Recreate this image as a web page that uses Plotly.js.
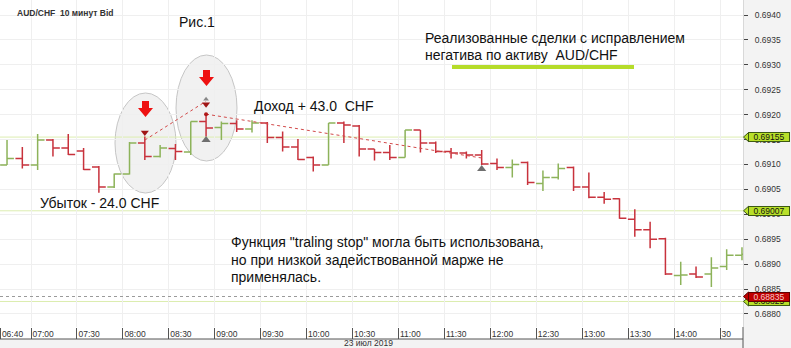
<!DOCTYPE html>
<html><head><meta charset="utf-8">
<script src="https://cdn.plot.ly/plotly-3.0.1.min.js"></script>
<style>html,body{margin:0;padding:0;background:#f3f3f3;}#chart{width:791px;height:348px;}</style>
</head><body><div id="chart"></div>
<script>
// ---- data ----
const barTimes = ['06:40','06:50','07:00','07:10','07:20','07:30','07:40','07:50','08:00','08:10',
  '08:20','08:30','08:40','08:50','09:00','09:10','09:20','09:30','09:40','09:50',
  '10:00','10:10','10:20','10:30','10:40','10:50','11:00','11:10','11:20','11:30',
  '11:40','11:50','12:00','12:10','12:20','12:30','12:40','12:50','13:00','13:10',
  '13:20','13:30','13:40','13:50','14:00','14:10','14:20','14:30','14:40'];
const openP  = [0.69099,0.69112,0.69099,0.69149,0.69133,0.69127,0.69095,0.69055,0.69081,0.69143,
  0.69116,0.69132,0.69125,0.69186,0.69174,0.69182,0.69171,0.69183,0.69154,0.69135,
  0.69114,0.69099,0.69183,0.69177,0.69131,0.69124,0.69114,0.69169,0.69143,0.69126,
  0.69123,0.69119,0.69102,0.69094,0.69104,0.69062,0.69074,0.69094,0.69055,0.69034,
  0.69031,0.68990,0.68969,0.68951,0.68877,0.68880,0.68880,0.68895,0.68918];
const highP  = [0.69149,0.69135,0.69161,0.69151,0.69161,0.69133,0.69097,0.69082,0.69145,0.69156,
  0.69139,0.69141,0.69186,0.69203,0.69186,0.69189,0.69189,0.69185,0.69166,0.69151,
  0.69116,0.69183,0.69186,0.69179,0.69131,0.69139,0.69169,0.69169,0.69146,0.69133,
  0.69126,0.69129,0.69112,0.69110,0.69106,0.69088,0.69102,0.69096,0.69084,0.69045,
  0.69032,0.69010,0.68985,0.68953,0.68905,0.68895,0.68914,0.68930,0.68934];
const lowP   = [0.69099,0.69092,0.69089,0.69116,0.69119,0.69089,0.69043,0.69053,0.69080,0.69109,
  0.69114,0.69109,0.69119,0.69156,0.69149,0.69165,0.69164,0.69143,0.69126,0.69109,
  0.69086,0.69099,0.69143,0.69116,0.69108,0.69109,0.69114,0.69124,0.69123,0.69112,
  0.69112,0.69099,0.69089,0.69074,0.69059,0.69047,0.69070,0.69047,0.69032,0.69021,
  0.68991,0.68955,0.68932,0.68878,0.68858,0.68872,0.68854,0.68888,0.68908];
const closeP = [0.69112,0.69099,0.69149,0.69133,0.69120,0.69090,0.69055,0.69081,0.69143,0.69116,
  0.69133,0.69126,0.69186,0.69173,0.69182,0.69171,0.69183,0.69154,0.69135,0.69110,
  0.69099,0.69183,0.69179,0.69131,0.69124,0.69114,0.69169,0.69143,0.69126,0.69123,
  0.69119,0.69101,0.69094,0.69100,0.69064,0.69074,0.69092,0.69055,0.69034,0.69030,
  0.68992,0.68969,0.68950,0.68880,0.68878,0.68874,0.68892,0.68918,0.68920];

const tickTimes  = ['06:40','07:00','07:30','08:00','08:30','09:00','09:30','10:00','10:30','11:00','11:30','12:00','12:30','13:00','13:30','14:00','14:30'];
const tickLabels = ['06:40','07:00','07:30','08:00','08:30','09:00','09:30','10:00','10:30','11:00','11:30','12:00','12:30','13:00','13:30','14:00','30'];
const yTicks = [0.6880,0.6885,0.6890,0.6895,0.6900,0.6905,0.6910,0.6915,0.6920,0.6925,0.6930,0.6935,0.6940];

// trades
const trade1Times = ['08:10','08:50'];  const trade1Prices = [0.69149, 0.69227];
const trade2Times = ['08:50','11:50'];  const trade2Prices = [0.69201, 0.69113];
const sellTimes = ['08:10','08:50'];    const sellPrices = [0.69164, 0.69221];
const exitTimes = ['08:50','11:50'];    const exitPrices = [0.69149, 0.69091];
const smallExitTimes = ['08:50'];       const smallExitPrices = [0.69231];
const dotTimes = ['08:50'];             const dotPrices = [0.69201];

// price levels
const greenLevels = [0.69155, 0.69007, 0.68825];
const greenLabels = ['0.69155','0.69007','0.68825'];
const redLevel = 0.68835; const redLabel = '0.68835';

// ---- helpers ----
function pad(n){return (n<10?'0':'')+n;}
function ts(hm, sec){
  const p = hm.split(':').map(Number);
  const s = p[0]*3600 + p[1]*60 + (sec||0);
  return '2019-07-23 ' + pad(Math.floor(s/3600)) + ':' + pad(Math.floor((s%3600)/60)) + ':' + pad(s%60);
}
const CENTER = 260; // bar drawn offset (s)
const W = 743, H = 327;
const YMIN = 0.687738, YMAX = 0.694301;
function px(x){return x/W;}
function py(y){return 1 - y/H;}
function pyPrice(v){return (v - YMIN)/(YMAX - YMIN);}
function pathPx(pts){return 'M ' + pts.map(p => px(p[0]) + ',' + py(p[1])).join(' L ') + ' Z';}

const FONT = 'Liberation Sans, Arial, sans-serif';

const traces = [
  {type:'ohlc', x: barTimes.map(t=>ts(t,CENTER)), open:openP, high:highP, low:lowP, close:closeP,
   increasing:{line:{color:'#8db35a', width:1.5}}, decreasing:{line:{color:'#c8323c', width:1.5}},
   tickwidth:0.45, hoverinfo:'skip'},
  {type:'scatter', mode:'lines', x: trade1Times.map(t=>ts(t,CENTER)), y: trade1Prices,
   line:{color:'#d24a4a', width:1, dash:'dot'}, hoverinfo:'skip'},
  {type:'scatter', mode:'lines', x: trade2Times.map(t=>ts(t,CENTER)), y: trade2Prices,
   line:{color:'#d24a4a', width:1, dash:'dot'}, hoverinfo:'skip'},
  {type:'scatter', mode:'markers', x: sellTimes.map(t=>ts(t,CENTER)), y: sellPrices,
   marker:{symbol:'triangle-down', size:7, color:'#a01515'}, hoverinfo:'skip'},
  {type:'scatter', mode:'markers', x: exitTimes.map(t=>ts(t,CENTER)), y: exitPrices,
   marker:{symbol:'triangle-up', size:8, color:'#6f6f6f'}, hoverinfo:'skip'},
  {type:'scatter', mode:'markers', x: smallExitTimes.map(t=>ts(t,CENTER)), y: smallExitPrices,
   marker:{symbol:'triangle-up', size:5, color:'#888'}, hoverinfo:'skip'},
  {type:'scatter', mode:'markers', x: dotTimes.map(t=>ts(t,CENTER)), y: dotPrices,
   marker:{symbol:'circle', size:4, color:'#b01818'}, hoverinfo:'skip'}
];

const shapes = [
  // x label band
  {type:'rect', xref:'paper', yref:'paper', x0:0, x1:1, y0:py(327), y1:py(339), fillcolor:'#ffffff', line:{width:0}, layer:'below'},
  // ellipses
  {type:'circle', xref:'paper', yref:'paper', x0:px(115), x1:px(176), y0:py(193), y1:py(93),
   fillcolor:'rgba(210,210,210,0.3)', line:{color:'#c6c6c6', width:1}, layer:'below'},
  {type:'circle', xref:'paper', yref:'paper', x0:px(176), x1:px(237), y0:py(161), y1:py(55),
   fillcolor:'rgba(210,210,210,0.3)', line:{color:'#c6c6c6', width:1}, layer:'below'},
  // lime underline
  {type:'rect', xref:'paper', yref:'paper', x0:px(452), x1:px(634), y0:py(69), y1:py(65), fillcolor:'#b5dc2a', line:{width:0}},
  // red arrows
  {type:'path', xref:'paper', yref:'paper', path: pathPx([[142,101],[149,101],[149,108],[153,108],[145.5,117],[138,108],[142,108]]),
   fillcolor:'#ee1111', line:{width:0}},
  {type:'path', xref:'paper', yref:'paper', path: pathPx([[203,70],[210,70],[210,77],[214,77],[206.5,86],[199,77],[203,77]]),
   fillcolor:'#ee1111', line:{width:0}},
  // bottom axis lines
  {type:'line', xref:'paper', yref:'paper', x0:0, x1:1, y0:py(339), y1:py(339), line:{color:'#555', width:1}},
  {type:'line', xref:'paper', yref:'paper', x0:1, x1:1, y0:py(327), y1:py(348), line:{color:'#555', width:1}}
];
greenLevels.forEach(v => {
  shapes.push({type:'line', xref:'paper', yref:'y', x0:0, x1:1, y0:v, y1:v, line:{color:'#dcedb0', width:1}, layer:'below'});
});
shapes.push({type:'line', xref:'paper', yref:'y', x0:0, x1:1, y0:redLevel, y1:redLevel, line:{color:'#9a9a9a', width:1, dash:'dot'}});

const annotations = [
  {text:'AUD/CHF\u00a0\u00a010 минут Bid', x:px(15), y:py(13), font:{size:8.5, color:'#333', family:FONT, weight:'bold'}},
  {text:'Рис.1', x:px(177), y:py(22), font:{size:14}},
  {text:'Реализованные сделки с исправлением', x:px(423), y:py(38), font:{size:14}},
  {text:'негатива по активу\u00a0\u00a0AUD/CHF', x:px(423), y:py(55), font:{size:14}},
  {text:'Доход + 43.0\u00a0\u00a0CHF', x:px(252), y:py(106), font:{size:14}},
  {text:'Убыток - 24.0 CHF', x:px(38), y:py(203), font:{size:14}},
  {text:'Функция "traling stop" могла быть использована,', x:px(229), y:py(242), font:{size:14}},
  {text:'но при низкой задействованной марже не', x:px(229), y:py(260), font:{size:14}},
  {text:'применялась.', x:px(229), y:py(277), font:{size:14}},
  {text:'23 июл 2019', x:px(395), y:py(343), xanchor:'right', font:{size:8.5, color:'#333'}}
].map(a => Object.assign({xref:'paper', yref:'paper', xanchor:'left', yanchor:'middle', showarrow:false},
   a, {font:Object.assign({family:FONT, color:'#111'}, a.font)}));

function levelBox(v, label, fill, border, txt){
  annotations.push({xref:'paper', yref:'y', x:px(748), y:v, xanchor:'left', yanchor:'middle', showarrow:false,
    text:label, bgcolor:fill, bordercolor:border, borderwidth:1, borderpad:0, width:40, height:8,
    font:{family:FONT, size:8.5, color:txt}});
  const yc = pyPrice(v), dy = 4.5/H;
  shapes.push({type:'path', xref:'paper', yref:'paper',
    path:'M '+px(743.5)+','+yc+' L '+px(748.5)+','+(yc+dy)+' L '+px(748.5)+','+(yc-dy)+' Z',
    fillcolor:fill, line:{color:border, width:1}});
}
greenLevels.forEach((v,i) => levelBox(v, greenLabels[i], '#b8e02a', '#3d5a12', '#111'));
levelBox(redLevel, redLabel, '#c00000', '#600000', '#f6c8c8');

const layout = {
  width:791, height:348,
  margin:{l:0, r:48, t:0, b:21, pad:0},
  paper_bgcolor:'#f3f3f3', plot_bgcolor:'#ffffff',
  showlegend:false,
  font:{family:FONT, size:8.5, color:'#333'},
  xaxis:{type:'date', range:[ts('06:39',45), ts('14:45',0)],
    tickvals: tickTimes.map(t=>ts(t,0)), ticktext: tickLabels,
    ticks:'outside', ticklen:11, tickcolor:'#555', tickwidth:1,
    ticklabelposition:'outside right', ticklabelstandoff:-1, ticklabelshift:1,
    tickfont:{size:8.5, color:'#333', family:FONT},
    showgrid:true, gridcolor:'#efefef', gridwidth:1, zeroline:false, showline:false,
    rangeslider:{visible:false}, fixedrange:true},
  yaxis:{side:'right', range:[YMIN, YMAX], tickvals:yTicks, tickformat:'.4f',
    ticks:'outside', ticklen:4, tickcolor:'#444', tickwidth:1, ticklabelstandoff:5,
    tickfont:{size:8.5, color:'#333', family:FONT},
    showgrid:true, gridcolor:'#efefef', gridwidth:1, zeroline:false,
    showline:true, linecolor:'#d8d8d8', linewidth:1, fixedrange:true},
  shapes: shapes,
  annotations: annotations
};

Plotly.newPlot('chart', traces, layout, {staticPlot:true, displayModeBar:false});
</script>
</body></html>
